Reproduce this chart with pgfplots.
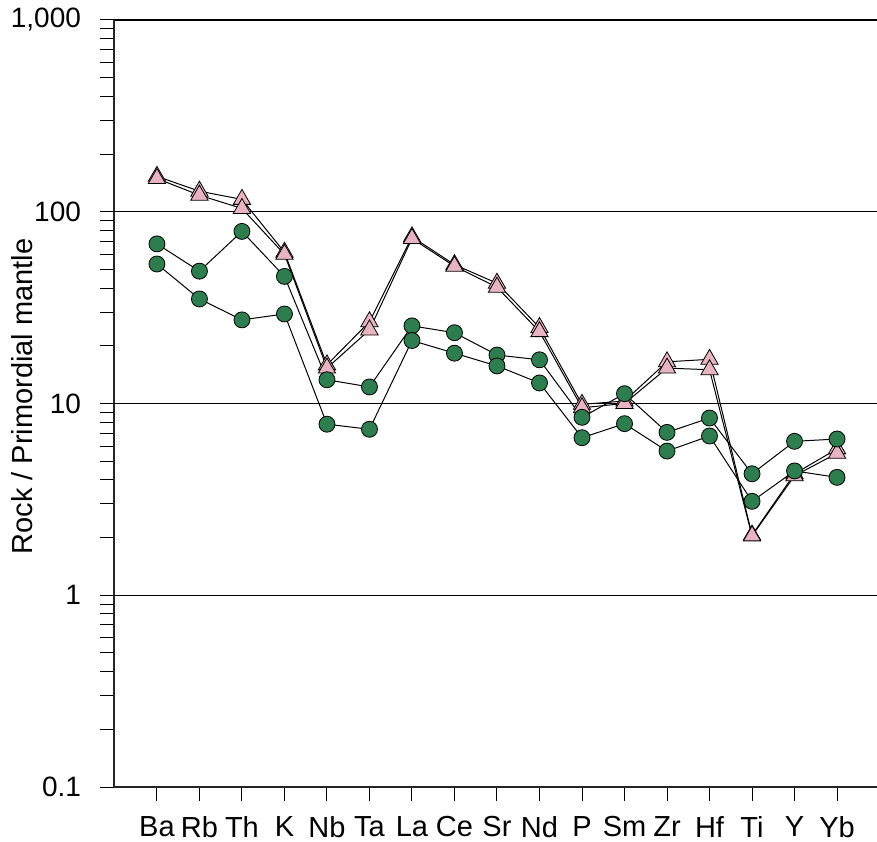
\documentclass[border=0pt]{standalone}
\usepackage{fontspec}
\setmainfont{Liberation Sans}
\usepackage{pgfplots}
\pgfplotsset{compat=1.18}
\definecolor{mkgreen}{RGB}{46,125,78}
\definecolor{mkpink}{RGB}{232,180,196}
\begin{document}
\begin{tikzpicture}
\begin{axis}[
 at={(0,0)}, anchor=south west,
 scale only axis, width=381.5pt, height=383.5pt,
 ymode=log, ymin=0.1, ymax=1000, xmin=-1.01, xmax=16.94,
 axis lines=left, axis line style={-, line width=0.6pt, black!85},
 xtick={0,...,16}, xticklabels={Ba,Rb,Th,K,Nb,Ta,La,Ce,Sr,Nd,P,Sm,Zr,Hf,Ti,Y,Yb},
 ytick={0.1,1,10,100,1000}, yticklabels={0.1,1,10,100,{1,000}},
 tick align=outside, major tick length=7pt, minor tick length=7pt,
 tick style={black, line width=0.5pt},
 ymajorgrids, major grid style={black, line width=0.6pt},
 xticklabel style={font=\fontsize{14.5}{16}\selectfont, yshift=-4pt},
 yticklabel style={font=\fontsize{14}{16}\selectfont, xshift=-6pt},
 ylabel={Rock / Primordial mantle},
 every axis y label/.style={at={(axis description cs:-0.1206,0.509)}, rotate=90, anchor=center, font=\fontsize{14.5}{16}\selectfont},
 every axis plot/.append style={black, line width=0.5pt},
 clip=false,
]
\addplot[mark=triangle*, mark size=5pt, mark options={fill=mkpink, draw=black, line width=0.4pt}] coordinates {
(0,153)(1,128)(2,116)(3,61.5)(4,15.9)(5,26.7)(6,74)(7,53)(8,42.4)(9,24.9)(10,9.9)(11,10.3)(12,16.5)(13,17.0)(14,2.06)(15,4.3)(16,5.8)};
\addplot[mark=triangle*, mark size=5pt, mark options={fill=mkpink, draw=black, line width=0.4pt}] coordinates {
(0,149)(1,122)(2,104)(3,60)(4,15.3)(5,24.2)(6,72.5)(7,52)(8,40.4)(9,23.7)(10,9.5)(11,10.0)(12,15.3)(13,15.0)(14,2.04)(15,4.2)(16,5.5)};
\addplot[mark=*, mark size=4pt, mark options={fill=mkgreen, draw=black, line width=0.4pt}] coordinates {
(0,68)(1,49)(2,79)(3,46)(4,13.3)(5,12.2)(6,25.4)(7,23.4)(8,17.9)(9,16.9)(10,8.47)(11,11.25)(12,7.07)(13,8.40)(14,4.30)(15,6.35)(16,6.53)};
\addplot[mark=*, mark size=4pt, mark options={fill=mkgreen, draw=black, line width=0.4pt}] coordinates {
(0,53.4)(1,35.1)(2,27.3)(3,29.3)(4,7.8)(5,7.34)(6,21.3)(7,18.3)(8,15.7)(9,12.8)(10,6.63)(11,7.85)(12,5.65)(13,6.77)(14,3.09)(15,4.45)(16,4.12)};
\end{axis}
\pgfresetboundingbox
\path[use as bounding box] (-57pt,-27pt) rectangle (381.5pt,393.5pt);
\end{tikzpicture}
\end{document}
